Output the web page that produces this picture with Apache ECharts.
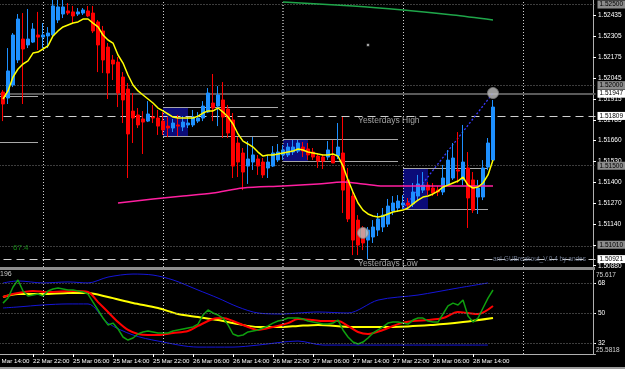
<!DOCTYPE html>
<html><head><meta charset="utf-8">
<script src="https://cdn.jsdelivr.net/npm/echarts@6/dist/echarts.min.js"></script>
<style>html,body{margin:0;padding:0;background:#000;}#c{width:625px;height:369px;}</style>
</head><body><div id="c"></div>
<script>
// ---------- categories (H1 bars) ----------
const dayNames = ['22 Mar','25 Mar','26 Mar','27 Mar','28 Mar','29 Mar'];
const firstHour = 14;          // first category = 22 Mar 14:00
const categoryCount = 121;
const firstBarOffset = 2;      // first candle = 22 Mar 16:00
const labelHours = [6, 14, 22];
const daySeparators = ['25 Mar 00:00','26 Mar 00:00','27 Mar 00:00','28 Mar 00:00','29 Mar 00:00'];

// ---------- candles ----------
const opens = [1.51957,1.51920,1.52001,1.52156,1.52286,1.52249,1.52267,1.52311,1.52298,1.52305,
1.52311,1.52404,1.52441,1.52460,1.52454,1.52441,1.52447,1.52460,1.52447,1.52392,
1.52336,1.52236,1.52156,1.52143,1.52050,1.51976,1.51839,1.51815,1.51790,1.51777,
1.51802,1.51796,1.51777,1.51746,1.51734,1.51753,1.51740,1.51753,1.51753,1.51777,
1.51796,1.51833,1.51889,1.51870,1.51908,1.51852,1.51784,1.51641,1.51579,1.51498,
1.51523,1.51542,1.51523,1.51486,1.51498,1.51536,1.51567,1.51567,1.51585,1.51591,
1.51616,1.51604,1.51585,1.51560,1.51554,1.51554,1.51560,1.51560,1.51579,1.51412,
1.51312,1.51163,1.51114,1.51039,1.51058,1.51101,1.51120,1.51138,1.51219,1.51238,
1.51256,1.51269,1.51263,1.51312,1.51349,1.51380,1.51362,1.51349,1.51337,1.51380,
1.51424,1.51474,1.51412,1.51486,1.51412,1.51306,1.51306,1.51492,1.51535];
const closes = [1.51883,1.52088,1.52311,1.52410,1.52224,1.52286,1.52348,1.52298,1.52311,1.52323,
1.52491,1.52485,1.52485,1.52447,1.52429,1.52454,1.52466,1.52429,1.52336,1.52249,
1.52156,1.52075,1.52131,1.51951,1.51908,1.51697,1.51796,1.51753,1.51771,1.51821,
1.51796,1.51746,1.51722,1.51734,1.51765,1.51746,1.51771,1.51765,1.51802,1.51796,
1.51870,1.51951,1.51858,1.51939,1.51802,1.51703,1.51498,1.51523,1.51461,1.51542,
1.51567,1.51498,1.51443,1.51523,1.51579,1.51585,1.51598,1.51616,1.51616,1.51641,
1.51591,1.51567,1.51554,1.51529,1.51529,1.51598,1.51517,1.51616,1.51349,1.51170,
1.51039,1.51008,1.51021,1.51101,1.51120,1.51170,1.51194,1.51250,1.51269,1.51281,
1.51269,1.51256,1.51337,1.51387,1.51380,1.51349,1.51331,1.51337,1.51424,1.51535,
1.51548,1.51467,1.51523,1.51300,1.51225,1.51362,1.51486,1.51641,1.51864];
const lows = [1.51777,1.51883,1.51988,1.52137,1.51883,1.52230,1.52261,1.52218,1.52230,1.52230,
1.52298,1.52385,1.52416,1.52435,1.52385,1.52429,1.52435,1.52422,1.52323,1.52081,
1.52075,1.51914,1.52032,1.51864,1.51765,1.51424,1.51641,1.51734,1.51573,1.51771,
1.51765,1.51691,1.51691,1.51678,1.51709,1.51684,1.51715,1.51734,1.51740,1.51765,
1.51777,1.51827,1.51777,1.51746,1.51672,1.51672,1.51424,1.51430,1.51349,1.51387,
1.51474,1.51443,1.51424,1.51424,1.51492,1.51523,1.51536,1.51554,1.51567,1.51579,
1.51554,1.51536,1.51536,1.51486,1.51480,1.51536,1.51517,1.51542,1.51207,1.51151,
1.50946,1.50946,1.50977,1.50921,1.51021,1.51064,1.51089,1.51120,1.51194,1.51213,
1.51232,1.51238,1.51244,1.51287,1.51331,1.51318,1.51312,1.51312,1.51318,1.51374,
1.51412,1.51393,1.51380,1.51114,1.51207,1.51201,1.51287,1.51473,1.51523];
const highs = [1.51970,1.52230,1.52323,1.52441,1.52447,1.52472,1.52385,1.52454,1.52385,1.52360,
1.52560,1.52560,1.52550,1.52509,1.52491,1.52478,1.52478,1.52491,1.52491,1.52404,
1.52367,1.52261,1.52187,1.52174,1.52081,1.52013,1.51951,1.51858,1.51839,1.51901,
1.51877,1.51846,1.51833,1.51802,1.51790,1.51815,1.51808,1.51802,1.51846,1.51833,
1.51901,1.51982,1.52069,1.51994,1.52019,1.51877,1.51827,1.51678,1.51610,1.51653,
1.51678,1.51567,1.51548,1.51567,1.51622,1.51635,1.51629,1.51641,1.51660,1.51660,
1.51647,1.51641,1.51610,1.51579,1.51567,1.51653,1.51660,1.51765,1.51802,1.51486,
1.51349,1.51194,1.51126,1.51120,1.51163,1.51207,1.51238,1.51294,1.51312,1.51318,
1.51318,1.51300,1.51393,1.51443,1.51461,1.51399,1.51393,1.51374,1.51505,1.51597,
1.51641,1.51709,1.51753,1.51585,1.51461,1.51412,1.51535,1.51672,1.51908];

// ---------- moving averages ----------
const yellowMA = [1.51914,1.51964,1.52050,1.52100,1.52131,1.52150,1.52199,1.52205,1.52224,1.52243,
1.52305,1.52336,1.52361,1.52373,1.52385,1.52392,1.52410,1.52410,1.52385,1.52361,
1.52311,1.52280,1.52261,1.52187,1.52137,1.52063,1.52001,1.51964,1.51939,1.51914,
1.51889,1.51858,1.51840,1.51821,1.51802,1.51796,1.51796,1.51796,1.51796,1.51808,
1.51827,1.51840,1.51840,1.51858,1.51833,1.51802,1.51759,1.51697,1.51653,1.51635,
1.51616,1.51585,1.51560,1.51567,1.51567,1.51573,1.51579,1.51585,1.51591,1.51604,
1.51598,1.51585,1.51579,1.51573,1.51567,1.51567,1.51573,1.51560,1.51498,1.51412,
1.51337,1.51269,1.51225,1.51201,1.51188,1.51182,1.51188,1.51201,1.51213,1.51219,
1.51225,1.51238,1.51263,1.51287,1.51306,1.51312,1.51325,1.51343,1.51368,1.51380,
1.51393,1.51405,1.51430,1.51380,1.51362,1.51368,1.51393,1.51443,1.51535];
const magentaMA = [[23,1.51269],[30,1.51294],[36,1.51312],[42,1.51331],[48,1.51362],[56,1.51374],[63,1.51387],[68,1.51399],[72,1.51387],[76,1.51374],[98,1.51374]];
const greenMA = [[56,1.52516],[70,1.52491],[80,1.52466],[90,1.52435],[98,1.52404]];

// ---------- levels ----------
const priceTicks = [1.52435,1.52305,1.52175,1.52045,1.51915,1.51785,1.51660,1.51530,1.51400,1.51270,1.51140,1.51010,1.50880];
const roundLevels = [1.525,1.520,1.515,1.510];
const grayLabelLevels = [1.52500,1.52000,1.51500,1.51010];
const dailyLevel = 1.51947;
const yesterdayHigh = 1.51809;
const yesterdayLow = 1.50921;
const rangeBoxes = [[32,37,1.51860,1.51681],[56,61,1.51666,1.51529],[80,85,1.51484,1.51232]];
const rangeLines = [[-1,7,1.51929],[-1,7,1.51647],[32,55,1.51860],[32,55,1.51681],[56,79,1.51666],[56,79,1.51529],[80,97,1.51484],[80,97,1.51232]];
const signalMarks = [[72,1.51083],[98,1.51951]];
const smallMark = [[73,1.52249]];
const targetLine = [[80,1.51232],[98,1.51951]];

// ---------- oscillator panel ----------
const oscTicks = [32,50,68];
const oscMax = 75.617, oscMin = 25.5818;
const bandUpper = [[0,67.9],[3,69.1],[8,67.9],[13,68.5],[17,67.9],[21,71.4],[26,73.2],[30,72.6],[34,69.7],[39,63.7],[43,58.9],[47,53.6],[51,50.0],[56,49.4],[59,50.0],[63,50.6],[69,50.0],[75,57.7],[83,60.7],[91,64.9],[97,67.9]];
const bandLower = [[0,53.0],[3,53.6],[8,54.8],[13,55.4],[17,55.4],[21,44.0],[26,36.9],[31,33.3],[39,29.7],[46,29.7],[51,30.9],[59,33.3],[64,30.9],[75,30.9],[97,30.9]];
const oscFast = [55.9,58.9,65.5,69.7,63.1,60.1,60.7,61.3,60.1,63.1,64.3,64.9,64.3,63.7,63.7,63.1,62.5,61.3,56.5,51.8,
47.0,42.9,44.0,40.5,35.7,33.9,35.1,37.5,38.7,39.3,38.7,38.1,38.1,38.1,39.3,39.9,40.5,41.1,41.7,43.4,
48.8,51.8,50.0,48.8,47.0,42.9,37.5,36.3,36.9,38.7,39.3,39.9,41.1,42.3,44.0,45.2,45.8,47.0,47.0,47.0,
46.4,45.2,44.6,44.0,43.4,43.4,44.0,45.8,39.9,35.7,32.7,31.5,32.7,35.1,38.1,39.9,41.7,44.0,44.6,44.6,
44.0,43.4,45.8,47.0,47.0,45.2,44.6,44.6,49.4,54.2,55.9,54.8,57.7,48.2,44.6,47.0,53.0,58.9,63.7];
const oscSignal = [[0,59.5],[2,61.3],[6,63.1],[9,62.5],[14,63.1],[17,62.5],[19,56.5],[21,50.6],[23,44.6],[25,39.9],[27,37.5],[29,36.9],[31,36.9],[34,38.1],[37,39.3],[39,42.3],[42,46.4],[44,47.0],[46,45.2],[49,41.7],[51,39.9],[54,41.7],[57,44.0],[59,46.4],[62,45.8],[64,45.2],[67,45.2],[69,42.3],[71,38.7],[73,37.5],[76,39.9],[79,43.4],[82,45.2],[85,45.8],[88,47.0],[91,50.6],[93,50.0],[95,49.4],[98,54.2]];
const oscSlow = [[0,59.5],[3,61.3],[8,61.3],[13,61.9],[17,61.9],[21,59.5],[26,56.0],[31,53.0],[35,49.4],[39,47.6],[43,45.8],[47,43.4],[51,41.7],[56,41.7],[59,42.3],[63,42.9],[70,41.7],[78,41.7],[86,42.9],[92,44.6],[98,47.0]];

// ---------- texts ----------
const textMarks = [
  {text:'Yesterdays High', bar:71, price:1.51778, color:'#c8c8c8', size:8.5},
  {text:'Yesterdays Low', bar:71, price:1.50890, color:'#c8c8c8', size:8.5},
  {text:'anl-GUBreakout_V.0.4 by andes', bar:98, price:1.50918, color:'#8a96b0', size:6.5},
  {text:'67.4', bar:2, price:1.50990, color:'#1aa01a', size:8}
];

// ================= build =================
const off = firstBarOffset;
const lastBarCat = off + opens.length - 1;
const categories = [];
{ let d = 0, h = firstHour;
  for (let i = 0; i < categoryCount; i++) {
    categories.push(dayNames[d] + ' ' + String(h).padStart(2,'0') + ':00');
    h++; if (h === 24) { h = 0; d++; }
  } }
const isLabelCat = (idx, val) => idx <= lastBarCat && labelHours.indexOf(parseInt(val.slice(-5,-3),10)) >= 0;
const padArr = (n, v) => Array.from({length:n}, () => v);
const candleData = padArr(off, ['-','-','-','-']).concat(opens.map((o,i)=>[o, closes[i], lows[i], highs[i]]));
const pairs = arr => arr.map(([k,v]) => [k+off, v]);
const FONT = 'Liberation Sans';
const dotted = [1,2];

const sepLines = () => daySeparators.map((c,i) => ({xAxis: c, lineStyle:{color: i===2 ? '#8a8a8a' : '#d0d0d0', width: i===2 ? 2 : 1, type: dotted}}));
const lvlLabel = (v, bg) => ({yAxis:v, lineStyle:{color:'rgba(0,0,0,0)', width:0}, label:{show:true, position:'end', distance:2, formatter:v.toFixed(5), backgroundColor:bg, color:'#000', fontFamily:FONT, fontSize:6.5, padding:[1,2,0,2], opacity:1}});

const option = {
  backgroundColor: '#000',
  animation: false,
  grid: [
    {left: -9.5, top: 0, width: 605, height: 267, outerBoundsMode: 'none', containLabel: false},
    {left: -9.5, top: 270, width: 605, height: 84, outerBoundsMode: 'none', containLabel: false}
  ],
  xAxis: [
    {type:'category', gridIndex:0, data:categories, boundaryGap:true,
     axisLine:{show:false}, axisTick:{show:false}, axisLabel:{show:false}, splitLine:{show:false}},
    {type:'category', gridIndex:1, data:categories, boundaryGap:true,
     axisLine:{show:true, lineStyle:{color:'#b0b0b0', width:1}},
     axisTick:{show:true, interval:isLabelCat, alignWithLabel:true, length:3, lineStyle:{color:'#ffffff'}},
     axisLabel:{show:true, interval:isLabelCat, align:'left', color:'#ffffff', fontFamily:FONT, fontSize:6.2, margin:4},
     splitLine:{show:false}}
  ],
  yAxis: [
    {type:'value', gridIndex:0, position:'right', offset:-2.5, min:1.50872, max:1.52528, scale:true,
     axisLine:{show:true, lineStyle:{color:'#b0b0b0'}},
     axisTick:{show:true, customValues:priceTicks, length:3, inside:false, lineStyle:{color:'#ffffff'}},
     axisLabel:{show:true, customValues:priceTicks, color:'#ffffff', fontFamily:FONT, fontSize:6.5, margin:5,
       formatter: v => v.toFixed(5)},
     splitLine:{show:false}},
    {type:'value', gridIndex:1, position:'right', offset:-2.5, min:oscMin, max:oscMax,
     axisLine:{show:true, lineStyle:{color:'#b0b0b0'}},
     axisTick:{show:true, customValues:oscTicks, length:3, lineStyle:{color:'#ffffff'}},
     axisLabel:{show:true, customValues:oscTicks, color:'#ffffff', fontFamily:FONT, fontSize:6.5, margin:5,
       formatter: v => String(v)},
     splitLine:{show:false}}
  ],
  series: [
    {type:'line', xAxisIndex:0, yAxisIndex:0, data:[], z:1, silent:true,
     markArea:{silent:true, itemStyle:{color:'#0b0b78'},
       data: rangeBoxes.map(b => [{coord:[b[0]+off, b[2]]},{coord:[b[1]+off, b[3]]}])},
     markLine:{silent:true, symbol:'none', animation:false, precision:6, label:{show:false},
       data: [].concat(
         roundLevels.map(v => ({yAxis:v, lineStyle:{color:'#7a7a7a', width:1, type:dotted}})),
         sepLines(),
         [{yAxis:dailyLevel, lineStyle:{color:'#5a5a5a', width:2, type:'solid'}}],
         rangeLines.map(r => [{coord:[r[0]+off, r[2]], lineStyle:{color:'#a8a8a8', width:1, type:'solid'}},{coord:[r[1]+off, r[2]]}]),
         [{yAxis:yesterdayHigh, lineStyle:{color:'#d0d0d0', width:1, type:[8,5]}},
          {yAxis:yesterdayLow, lineStyle:{color:'#d0d0d0', width:1, type:[8,5]}}],
         [[{coord:[targetLine[0][0]+off, targetLine[0][1]], lineStyle:{color:'#3a3aff', width:1.3, type:[2,2]}},{coord:[targetLine[1][0]+off, targetLine[1][1]]}]]
       )}},
    {type:'line', xAxisIndex:0, yAxisIndex:0, data:[], z:20, silent:true,
     markLine:{silent:true, symbol:'none', animation:false, precision:6,
       data: [].concat(
         grayLabelLevels.map(v => lvlLabel(v, '#8c8c8c')),
         [dailyLevel, yesterdayHigh, yesterdayLow].map(v => lvlLabel(v, '#ffffff'))
       )}},
    {name:'price', type:'candlestick', xAxisIndex:0, yAxisIndex:0, data:candleData, barWidth:3, z:5,
     itemStyle:{color:'#1e90ff', color0:'#ff0000', borderColor:'#1e90ff', borderColor0:'#ff0000', borderWidth:1}},
    {type:'line', xAxisIndex:0, yAxisIndex:0, data:pairs(magentaMA), symbol:'none', z:6, smooth:0.3,
     lineStyle:{color:'#ff1fa0', width:1.5}},
    {type:'line', xAxisIndex:0, yAxisIndex:0, data:pairs(greenMA), symbol:'none', z:6, smooth:0.3,
     lineStyle:{color:'#1fa64a', width:1.5}},
    {type:'line', xAxisIndex:0, yAxisIndex:0, data:padArr(off,'-').concat(yellowMA), symbol:'none', z:7,
     lineStyle:{color:'#ffff00', width:1.5}},
    {type:'scatter', xAxisIndex:0, yAxisIndex:0, data:pairs(signalMarks), symbol:'circle', symbolSize:11, z:8,
     itemStyle:{color:'#c0c0c0', borderColor:'#808080', borderWidth:1}},
    {type:'scatter', xAxisIndex:0, yAxisIndex:0, data:pairs(smallMark), symbol:'emptyCircle', symbolSize:4, z:8,
     itemStyle:{color:'#000', borderColor:'#2828b0', borderWidth:1}},
    {type:'scatter', xAxisIndex:0, yAxisIndex:0, z:9, symbolSize:0, clip:false,
     data: textMarks.map(t => ({value:[t.bar+off, t.price], label:{show:true, position:'right', distance:0, formatter:t.text, color:t.color, fontSize:t.size, fontFamily:FONT}}))},
    {type:'line', xAxisIndex:1, yAxisIndex:1, data:[], silent:true,
     markLine:{silent:true, symbol:'none', animation:false, precision:6, label:{show:false},
       data: [].concat(oscTicks.map(v => ({yAxis:v, lineStyle:{color:'#7a7a7a', width:1, type:dotted}})), sepLines())}},
    {type:'line', xAxisIndex:1, yAxisIndex:1, data:pairs(bandUpper), symbol:'none', smooth:0.3, lineStyle:{color:'#1515d8', width:1}},
    {type:'line', xAxisIndex:1, yAxisIndex:1, data:pairs(bandLower), symbol:'none', smooth:0.3, lineStyle:{color:'#1515d8', width:1}},
    {type:'line', xAxisIndex:1, yAxisIndex:1, data:pairs(oscSlow), symbol:'none', smooth:0.3, lineStyle:{color:'#ffff00', width:2}},
    {type:'line', xAxisIndex:1, yAxisIndex:1, data:pairs(oscSignal), symbol:'none', smooth:0.3, lineStyle:{color:'#ff0000', width:2}},
    {type:'line', xAxisIndex:1, yAxisIndex:1, data:padArr(off,'-').concat(oscFast), symbol:'none', lineStyle:{color:'#0fa00f', width:1.5}},
    {type:'scatter', xAxisIndex:1, yAxisIndex:1, symbolSize:0, clip:false, z:9,
     data:[{value:[categoryCount-1, oscMax], label:{show:true, position:'right', distance:3, offset:[0,5], formatter:String(oscMax), color:'#fff', fontSize:6.5, fontFamily:FONT}},
           {value:[categoryCount-1, oscMin], label:{show:true, position:'right', distance:3, offset:[0,-4], formatter:String(oscMin), color:'#fff', fontSize:6.5, fontFamily:FONT}}]}
  ],
  graphic: [
    {type:'rect', shape:{x:0, y:267, width:595, height:3}, style:{fill:'#8c8c8c'}, z:100},
    {type:'rect', shape:{x:0, y:367, width:625, height:2}, style:{fill:'#9a9a9a'}, z:100},
    {type:'text', x:0, y:271, style:{text:'196', fill:'#c8c8c8', font:'7px Liberation Sans'}, z:100}
  ]
};
const chart = echarts.init(document.getElementById('c'));
chart.setOption(option);
</script></body></html>
